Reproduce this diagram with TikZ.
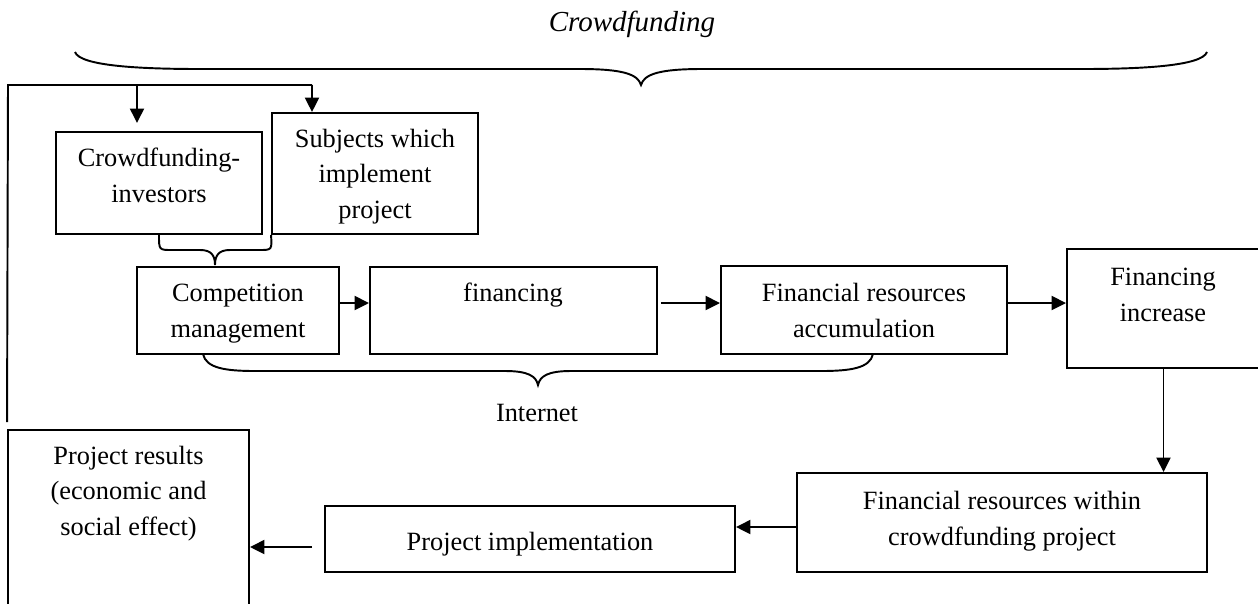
\documentclass[tikz,border=0pt]{standalone}
\usepackage{fontspec}
\setmainfont{Liberation Serif}
\usetikzlibrary{arrows.meta,fit,calc}
\begin{document}
\begin{tikzpicture}[x=0.02cm,y=-0.02cm,
  line/.style={line width=1.1pt},
  box/.style={draw,line width=1.1pt,inner sep=0pt},
  arr/.style={line width=1.1pt,-{Triangle[length=0.29cm,width=0.28cm]}},
  txt/.style={anchor=base,align=center,inner sep=0pt,font=\fontsize{15}{20.2}\selectfont},
  brace/.style={line width=1.1pt}]
\useasboundingbox (0,0) rectangle (1258,603);
\clip (0,0) rectangle (1258,603);
% title
\node[anchor=base,inner sep=0pt,font=\fontsize{16.5}{20}\selectfont\itshape] (title) at (632,31) {Crowdfunding};
% boxes
\node[box,fit={(56,132) (262,234)}] (ci) {};
\node[box,fit={(272,113) (478,234)}] (sub) {};
\node[box,fit={(137,267) (339,354)}] (cm) {};
\node[box,fit={(370,267) (657,354)}] (fin) {};
\node[box,fit={(721,266) (1007,354)}] (fra) {};
\node[box,fit={(1067,249) (1260,368)}] (fi) {};
\node[box,fit={(797,473) (1207,572)}] (frw) {};
\node[box,fit={(325,506) (735,572)}] (pi) {};
\node[box,fit={(8,430) (249,612)}] (pr) {};
% texts (anchor = baseline of the last line)
\node[txt] (ci-t) at (159,202) {Crowdfunding-\\investors};
\node[txt] (sub-t) at (375,218) {Subjects which\\implement\\project};
\node[txt] (cm-t) at (238,337) {Competition\\management};
\node[txt] (fin-t) at (513,301) {financing};
\node[txt] (fra-t) at (864,337) {Financial resources\\accumulation};
\node[txt] (fi-t) at (1163,321) {Financing\\increase};
\node[txt] (frw-t) at (1002,545) {Financial resources within\\crowdfunding project};
\node[txt] (pi-t) at (530,550) {Project implementation};
\node[txt] (pr-t) at (128.5,535) {Project results\\(economic and\\social effect)};
\node[txt] (inet) at (537,421) {Internet};
% big brace
\coordinate (bl) at (75,52);
\coordinate (br) at (1207,52);
\coordinate (bt) at (641,85);
\draw[brace] (bl) .. controls (80,66) and (140,69) .. (200,69) -- (580,69)
  .. controls (622,69) and (638,74) .. (bt)
  .. controls (644,74) and (660,69) .. (702,69) -- (1082,69)
  .. controls (1142,69) and (1202,66) .. (br);
% small brace under investors / subjects
\coordinate (st) at (215,265);
\draw[brace] (ci.south) .. controls (159,250) and (159,250) .. (172,250) -- (200,250)
  .. controls (211,250) and (215,255) .. (st)
  .. controls (215,255) and (219,250) .. (230,250) -- (259,250)
  .. controls (272,250) and (272,250) .. (sub.south west);
% internet brace
\coordinate (il) at (203,354);
\coordinate (ir) at (873,354);
\coordinate (it) at (538,385);
\draw[brace] (il) .. controls (206,368) and (225,371) .. (255,371) -- (505,371)
  .. controls (528,371) and (536,376) .. (it)
  .. controls (540,376) and (548,371) .. (571,371) -- (821,371)
  .. controls (851,371) and (870,368) .. (ir);
% feedback line
\coordinate (fb) at ($(pr.north west)+(0,-7)$);
\coordinate (fc) at (8,85);
\coordinate (f1) at (137,85);
\coordinate (f2) at (312,85);
\coordinate (a1) at (137,123);
\draw[line] (fb) -- (fc) -- (f2);
\draw[arr] (f1) -- (a1);
\draw[arr] (f2) -- (f2 |- sub.north);
% flow arrows
\draw[arr] ([yshift=0.15cm]cm.east) -- ([yshift=0.15cm]cm.east -| fin.west);
\draw[arr] ([xshift=0.06cm,yshift=0.15cm]fin.east) -- ([yshift=0.15cm]fin.east -| fra.west);
\draw[arr] ([yshift=0.14cm]fra.east) -- ([yshift=0.14cm]fra.east -| fi.west);
\draw[arr] (fi.south) -- (fi.south |- frw.north);
\draw[arr] ([yshift=-0.09cm]frw.west) -- ([yshift=-0.09cm]frw.west -| pi.east);
\draw[arr] ([xshift=-0.24cm,yshift=-0.16cm]pi.west) -- ([yshift=-0.16cm]pi.west -| pr.east);
\end{tikzpicture}
\end{document}
